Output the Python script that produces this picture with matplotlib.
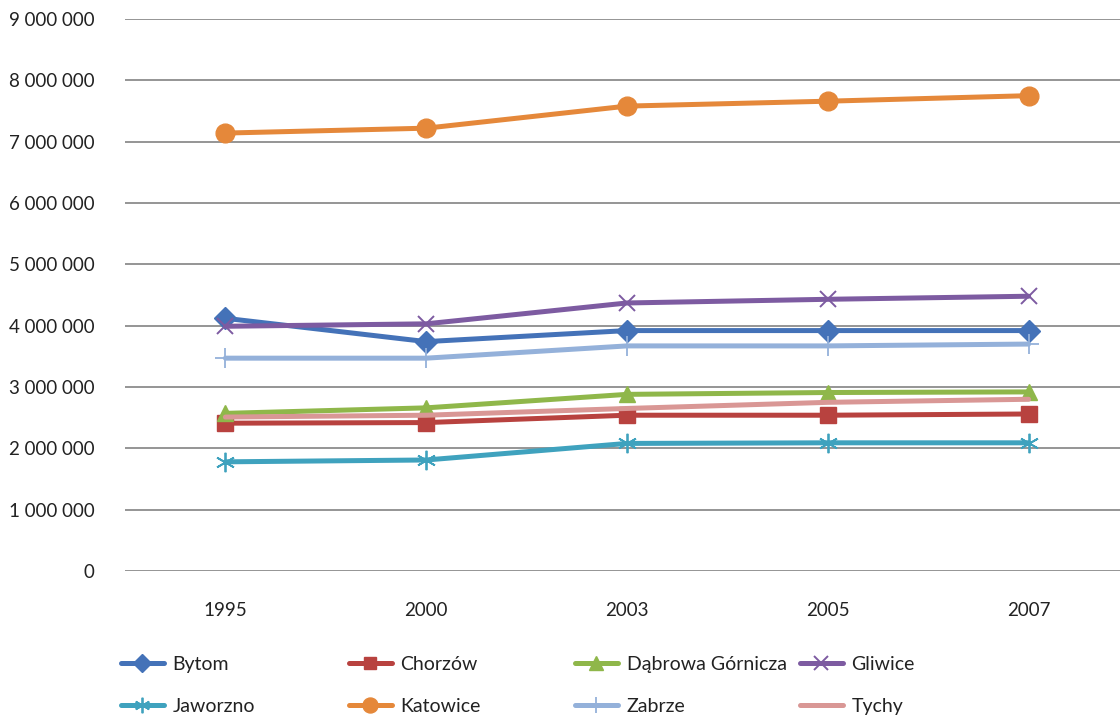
import matplotlib
matplotlib.use('Agg')
import matplotlib.pyplot as plt
from matplotlib.ticker import FuncFormatter

plt.rcParams['font.family'] = ['Lato', 'DejaVu Sans']

years = ['1995', '2000', '2003', '2005', '2007']

bytom = [4120000, 3740000, 3920000, 3920000, 3920000]
chorzow = [2410000, 2420000, 2540000, 2540000, 2560000]
dabrowa = [2570000, 2660000, 2880000, 2910000, 2920000]
gliwice = [3990000, 4030000, 4370000, 4430000, 4480000]
jaworzno = [1780000, 1810000, 2080000, 2090000, 2090000]
katowice = [7140000, 7220000, 7580000, 7660000, 7750000]
zabrze = [3470000, 3470000, 3670000, 3670000, 3700000]
tychy = [2510000, 2540000, 2650000, 2750000, 2800000]

series = [
    ('Bytom', bytom, '#4472B8', 'D', 11, 1.0),
    ('Chorzów', chorzow, '#B8423F', 's', 11, 1.0),
    ('Dąbrowa Górnicza', dabrowa, '#8FB74A', '^', 12, 1.0),
    ('Gliwice', gliwice, '#7D5BA1', 'x', 12, 1.4),
    ('Jaworzno', jaworzno, '#3FA2BE', (6, 2, 0), 14, 1.3),
    ('Katowice', katowice, '#E5883A', 'o', 13.5, 1.0),
    ('Zabrze', zabrze, '#94B1DA', '+', 14, 1.3),
    ('Tychy', tychy, '#D99795', None, 0, 1.0),
]

fig = plt.figure(figsize=(11.2, 7.18), dpi=100)
ax = fig.add_axes([125 / 1120, 147 / 718, 1004 / 1120, 552 / 718])

x = list(range(len(years)))
lines = []
for name, vals, col, mk, ms, mew in series:
    ln, = ax.plot(x, vals, color=col, lw=3.6, marker=mk, markersize=ms,
                  markeredgewidth=mew, markeredgecolor=col, markerfacecolor=col,
                  label=name, solid_capstyle='round')
    lines.append(ln)

ax.set_xlim(-0.5, 4.5)
ax.set_ylim(0, 9000000)
ax.set_yticks(range(0, 9000001, 1000000))
ax.yaxis.set_major_formatter(FuncFormatter(lambda v, p: '{:,}'.format(int(v)).replace(',', ' ')))
ax.set_xticks(x)
ax.set_xticklabels(years)
ax.grid(axis='y', color='#8c8c8c', lw=1.3)
ax.set_axisbelow(True)
for s in ax.spines.values():
    s.set_visible(False)
ax.tick_params(length=0, labelsize=13.5, colors='#222222')
ax.tick_params(axis='y', pad=22)
ax.tick_params(axis='x', pad=22)

# legend: four equal columns like Excel
col_x = [121, 349, 575, 800]
for i, cx in enumerate(col_x):
    leg = fig.legend([lines[i], lines[i + 4]], [series[i][0], series[i + 4][0]],
                     loc='upper left', bbox_to_anchor=(cx / 1120, 1 - 656 / 718),
                     frameon=False, fontsize=14, borderpad=0, borderaxespad=0,
                     handlelength=2.2, handletextpad=0.45, labelspacing=1.3,
                     markerscale=0.8)
    for t in leg.get_texts():
        t.set_color('#222222')

fig.savefig('out.png', dpi=100)
